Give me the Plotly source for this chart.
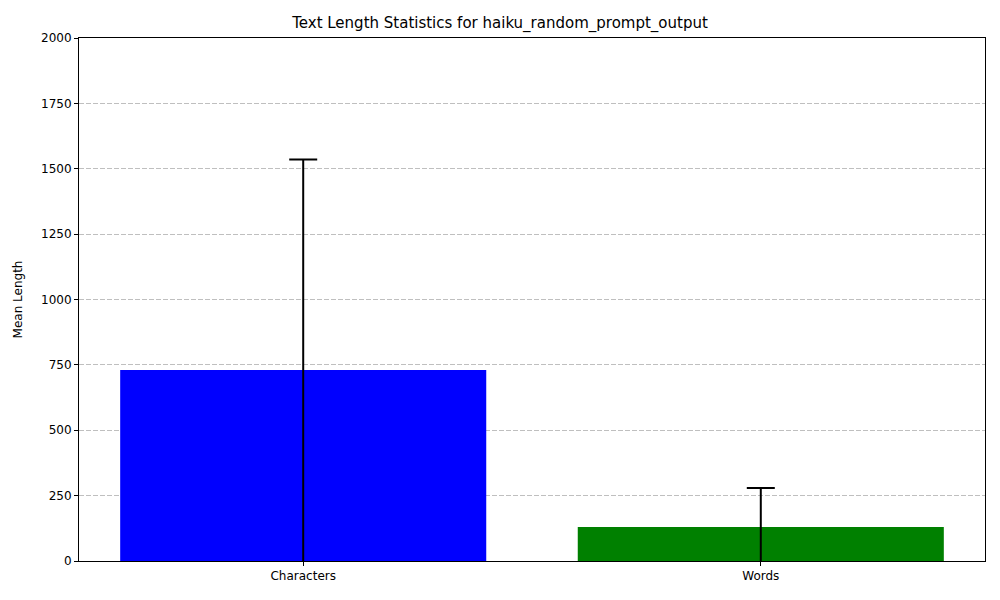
import plotly.graph_objects as go

categories = ["Characters", "Words"]
means = [730, 130]
stds = [805, 149]
colors = ["blue", "green"]

fig = go.Figure()
fig.add_trace(go.Bar(
    x=categories, y=means, marker_color=colors, width=0.8,
    marker_line_width=0,
    error_y=dict(type="data", array=stds, visible=True, color="black", thickness=2, width=14),
))
fig.update_layout(
    width=984, height=584,
    margin=dict(l=71, r=7, t=30, b=31),
    plot_bgcolor="white", paper_bgcolor="white",
    font=dict(family="DejaVu Sans", size=12, color="black"),
    title=dict(text="Text Length Statistics for haiku_random_prompt_output", x=0.5, xanchor="center",
               y=1 - 15 / 584, yanchor="middle", font=dict(size=15)),
    showlegend=False,
)
fig.update_xaxes(range=[-0.49, 1.49], showline=True, linecolor="black", mirror=True, ticks="outside", ticklen=4, tickcolor="black", showgrid=False)
fig.update_yaxes(range=[0, 2000], dtick=250, title_text="Mean Length", title_font=dict(size=12), showline=True, linecolor="black", mirror=True, ticks="outside", ticklen=4, tickcolor="black",
                 showgrid=True, gridcolor="rgba(0,0,0,0.25)", griddash="5px,2px", zeroline=False)
fig.write_html("out.html")
